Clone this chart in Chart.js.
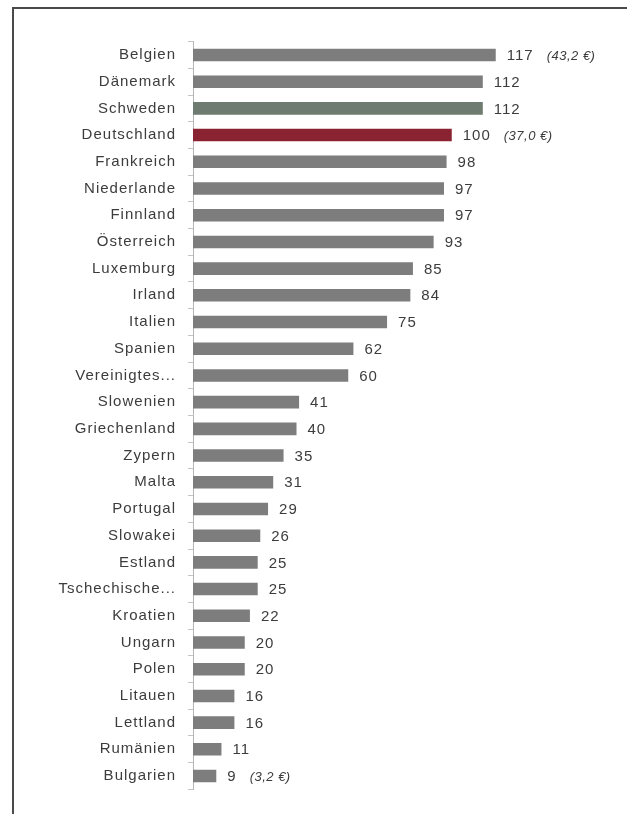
<!DOCTYPE html>
<html>
<head>
<meta charset="utf-8">
<script src="https://cdn.jsdelivr.net/npm/chart.js@4"></script>
<style>
  html, body { margin:0; padding:0; background:#fff; overflow:hidden; }
  #wrap { position:relative; width:627px; height:814px; }
  #frame { position:absolute; left:12px; top:7px; width:640px; height:820px;
           border-top:2px solid #4a4a4a; border-left:2px solid #4a4a4a; }
  #c { position:absolute; left:0; top:0; }
</style>
</head>
<body>
<div id="wrap">
  <div id="frame"></div>
  <canvas id="c" width="627" height="814"></canvas>
</div>
<script>
/* Index Arbeitskosten je Stunde, Deutschland = 100 */
const laender = [
  "Belgien","Dänemark","Schweden","Deutschland","Frankreich","Niederlande",
  "Finnland","Österreich","Luxemburg","Irland","Italien","Spanien",
  "Vereinigtes Königreich","Slowenien","Griechenland","Zypern","Malta",
  "Portugal","Slowakei","Estland","Tschechische Republik","Kroatien",
  "Ungarn","Polen","Litauen","Lettland","Rumänien","Bulgarien"
];
const indexWerte = [
  117,112,112,100,98,97,97,93,85,84,75,62,60,41,40,35,31,29,26,25,25,22,20,20,16,16,11,9
];
// Euro-Angaben neben einzelnen Balken
const euroHinweise = {0:"(43,2 €)", 3:"(37,0 €)", 27:"(3,2 €)"};

const GRAU = "#7d7d7d";
const farben = laender.map(l => {
  if (l === "Deutschland") return "#8a2331";
  if (l === "Schweden") return "#6e7b71";
  return GRAU;
});

const FONT = "'Liberation Sans', Arial, sans-serif";
const TEXTFARBE = "#3c3c3c";

// etwas gesperrte Schrift für alle Beschriftungen
const sperrung = {
  id:"sperrung",
  beforeDraw(chart){ chart.ctx.letterSpacing = "1px"; },
  afterDraw(chart){ chart.ctx.letterSpacing = "0px"; }
};

// Wert und ggf. Euro-Betrag rechts neben den Balken
const wertLabels = {
  id:"wertLabels",
  afterDatasetsDraw(chart){
    const ctx = chart.ctx;
    const meta = chart.getDatasetMeta(0);
    ctx.save();
    ctx.textBaseline = "middle";
    ctx.fillStyle = TEXTFARBE;
    meta.data.forEach((bar, i) => {
      const txt = String(indexWerte[i]);
      ctx.letterSpacing = "1px";
      ctx.font = "15px " + FONT;
      const x = bar.x + 11;
      ctx.fillText(txt, x, bar.y + 1);
      const hinweis = euroHinweise[i];
      if (hinweis) {
        const w = ctx.measureText(txt).width;
        ctx.letterSpacing = "0.5px";
        ctx.font = "italic 13px " + FONT;
        ctx.fillText(hinweis, x + w + 13, bar.y + 1);
      }
    });
    ctx.restore();
  }
};

new Chart(document.getElementById("c").getContext("2d"), {
  type:"bar",
  data:{
    labels: laender,
    datasets:[{
      data: indexWerte,
      backgroundColor: farben,
      categoryPercentage: 1,
      barPercentage: 0.47
    }]
  },
  options:{
    indexAxis:"y",
    responsive:false,
    animation:false,
    layout:{ padding:{ top:41.6, bottom:24.6, left:0, right:20 } },
    plugins:{ legend:{display:false}, tooltip:{enabled:false} },
    scales:{
      x:{ display:false, min:0, max:160 },
      y:{
        afterFit(scale){ scale.width = 193; },
        grid:{ drawOnChartArea:false, color:"#c4c4c4", tickLength:5, offset:true },
        border:{ display:true, color:"#b5b5b5", width:1 },
        ticks:{
          color:TEXTFARBE,
          padding:12,
          font:{ family:FONT, size:15 },
          autoSkip:false,
          callback(v){
            const l = laender[v];
            return l.includes(" ") ? l.split(" ")[0] + "..." : l;
          }
        }
      }
    }
  },
  plugins:[sperrung, wertLabels]
});
</script>
</body>
</html>
